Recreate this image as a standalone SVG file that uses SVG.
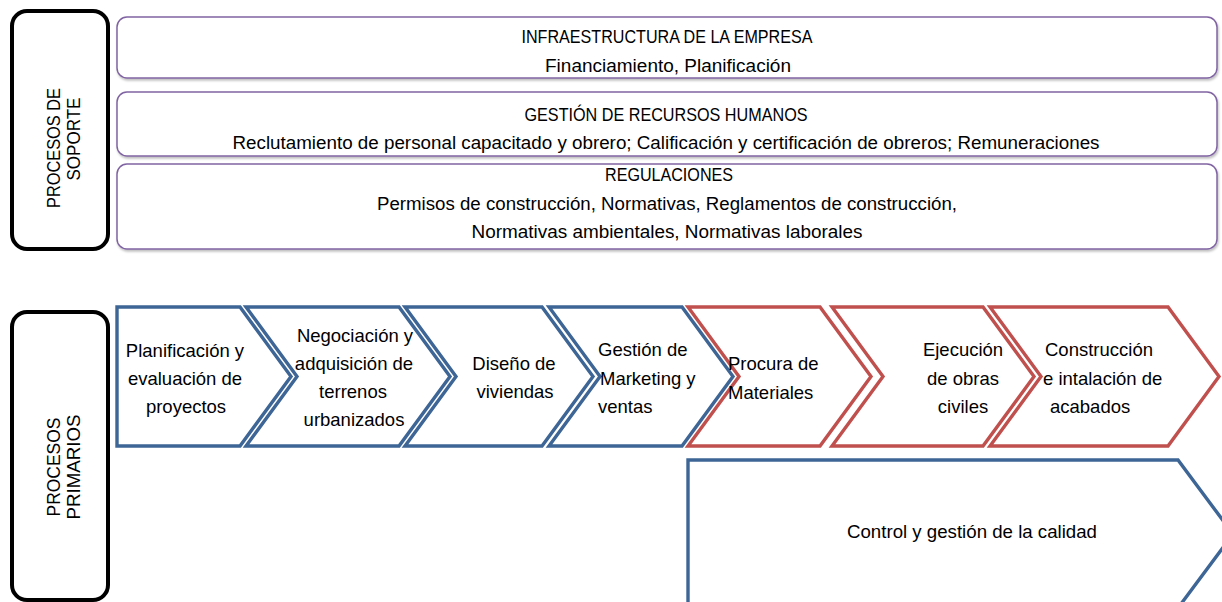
<svg xmlns="http://www.w3.org/2000/svg" width="1222" height="602" viewBox="0 0 1222 602">
<style>
text{font-family:"Liberation Sans",Arial,sans-serif;fill:#000}
.sup{font-size:17.5px;text-anchor:middle}
.lbl{font-size:18.5px}
.mid{text-anchor:middle}
.side{fill:#fff;stroke:#000;stroke-width:4}
.pbox{fill:#fff;stroke:#8064A2;stroke-width:1.5}
.blue{fill:#fff;stroke:#3D6595;stroke-width:3.4;stroke-linejoin:miter}
.red{fill:#fff;stroke:#C0504D;stroke-width:3.4;stroke-linejoin:miter}
.vt{font-size:18px;text-anchor:middle}
</style>
<defs>
<filter id="sh" x="-5%" y="-20%" width="110%" height="150%">
<feDropShadow dx="1" dy="2" stdDeviation="1.2" flood-color="#000" flood-opacity="0.25"/>
</filter>
</defs>
<rect width="1222" height="602" fill="#fff"/>

<g id="procesos-soporte">
<rect class="side" x="12" y="11" width="96" height="238" rx="15"/>
<text class="vt" transform="translate(60,148) rotate(-90)" textLength="120" lengthAdjust="spacingAndGlyphs">PROCESOS DE</text>
<text class="vt" transform="translate(80,139) rotate(-90)" textLength="83" lengthAdjust="spacingAndGlyphs">SOPORTE</text>
</g>

<g id="procesos-primarios">
<rect class="side" x="12" y="312" width="96" height="288" rx="15"/>
<text class="vt" transform="translate(60,467) rotate(-90)" textLength="99" lengthAdjust="spacingAndGlyphs">PROCESOS</text>
<text class="vt" transform="translate(80,467) rotate(-90)" textLength="105" lengthAdjust="spacingAndGlyphs">PRIMARIOS</text>
</g>

<g id="infraestructura">
<rect class="pbox" filter="url(#sh)" x="117" y="17" width="1100" height="61" rx="10"/>
<text class="sup" x="667" y="43" textLength="291" lengthAdjust="spacingAndGlyphs">INFRAESTRUCTURA DE LA EMPRESA</text>
<text class="sup" x="668" y="72" textLength="246" lengthAdjust="spacingAndGlyphs">Financiamiento, Planificación</text>
</g>

<g id="recursos-humanos">
<rect class="pbox" filter="url(#sh)" x="117" y="92" width="1100" height="64" rx="10"/>
<text class="sup" x="666" y="121" textLength="283" lengthAdjust="spacingAndGlyphs">GESTIÓN DE RECURSOS HUMANOS</text>
<text class="sup" x="666" y="149" textLength="867" lengthAdjust="spacingAndGlyphs">Reclutamiento de personal capacitado y obrero; Calificación y certificación de obreros; Remuneraciones</text>
</g>

<g id="regulaciones">
<rect class="pbox" filter="url(#sh)" x="117" y="164" width="1100" height="85" rx="10"/>
<text class="sup" x="669" y="181" textLength="128" lengthAdjust="spacingAndGlyphs">REGULACIONES</text>
<text class="sup" x="667" y="210" textLength="580" lengthAdjust="spacingAndGlyphs">Permisos de construcción, Normativas, Reglamentos de construcción,</text>
<text class="sup" x="667" y="238" textLength="391" lengthAdjust="spacingAndGlyphs">Normativas ambientales, Normativas laborales</text>
</g>

<g id="planificacion">
<polygon class="blue" points="117,307 240,307 291,376.5 240,446 117,446"/>
<text class="lbl mid" x="185" y="357">Planificación y</text>
<text class="lbl mid" x="185" y="385">evaluación de</text>
<text class="lbl mid" x="186" y="413">proyectos</text>
</g>

<g id="negociacion">
<polygon class="blue" points="246,307 399,307 450,376.5 399,446 246,446 297,376.5"/>
<text class="lbl mid" x="355" y="342">Negociación y</text>
<text class="lbl mid" x="354" y="370">adquisición de</text>
<text class="lbl mid" x="353" y="398">terrenos</text>
<text class="lbl mid" x="354" y="426">urbanizados</text>
</g>

<g id="diseno">
<polygon class="blue" points="405,307 542,307 593,376.5 542,446 405,446 456,376.5"/>
<text class="lbl mid" x="514" y="370">Diseño de</text>
<text class="lbl mid" x="515" y="398">viviendas</text>
</g>

<g id="marketing">
<polygon class="blue" points="549,307 682,307 733,376.5 682,446 549,446 600,376.5"/>
<text class="lbl" x="598" y="356">Gestión de</text>
<text class="lbl" x="600" y="385">Marketing y</text>
<text class="lbl" x="598" y="413">ventas</text>
</g>

<g id="procura">
<polygon class="red" points="688,307 820,307 871,376.5 820,446 688,446 739,376.5"/>
<text class="lbl" x="728" y="370">Procura de</text>
<text class="lbl" x="728" y="399">Materiales</text>
</g>

<g id="ejecucion">
<polygon class="red" points="832,307 983,307 1034,376.5 983,446 832,446 883,376.5"/>
<text class="lbl mid" x="963" y="356">Ejecución</text>
<text class="lbl mid" x="963" y="385">de obras</text>
<text class="lbl mid" x="963" y="413">civiles</text>
</g>

<g id="construccion">
<polygon class="red" points="990,307 1168,307 1219,376.5 1168,446 990,446 1041,376.5"/>
<text class="lbl" x="1045" y="356">Construcción</text>
<text class="lbl" x="1043" y="385">e intalación de</text>
<text class="lbl" x="1050" y="413">acabados</text>
</g>

<g id="calidad">
<polygon class="blue" points="688,460 1178,460 1233,534 1178,608 688,608"/>
<text class="sup" x="972" y="538" textLength="250" lengthAdjust="spacingAndGlyphs">Control y gestión de la calidad</text>
</g>

<g id="connectors"></g>
</svg>
